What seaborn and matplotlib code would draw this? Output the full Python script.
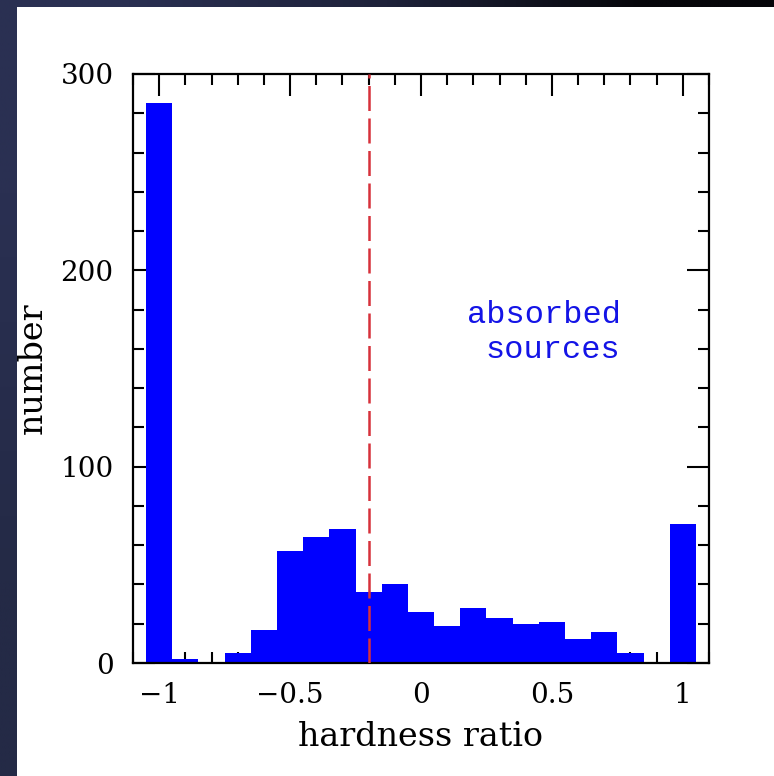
import numpy as np
import matplotlib
matplotlib.use("Agg")
import matplotlib.pyplot as plt
from matplotlib.patches import Rectangle
from matplotlib.ticker import MultipleLocator
import seaborn as sns

# Hardness-ratio histogram: bin centres (width 0.1) and source counts
bin_centers = [-1.0, -0.9, -0.8, -0.7, -0.6, -0.5, -0.4, -0.3, -0.2, -0.1,
               0.0, 0.1, 0.2, 0.3, 0.4, 0.5, 0.6, 0.7, 0.8, 0.9, 1.0]
counts = [285, 2, 0, 5, 17, 57, 64, 68, 36, 40,
          26, 19, 28, 23, 20, 21, 12, 16, 5, 0, 71]
divider_hr = -0.2
x_ticks = [-1, -0.5, 0, 0.5, 1]
x_tick_labels = ["\u22121", "\u22120.5", "0", "0.5", "1"]
y_ticks = [0, 100, 200, 300]
annotation_lines = ["absorbed", "sources"]
annotation_x = [0.471, 0.504]
annotation_y = [173.2, 155.4]

sns.set_theme(style="white")
plt.rcParams["font.family"] = ["DejaVu Serif", "DejaVu Sans"]
plt.rcParams["text.color"] = "black"
plt.rcParams["axes.labelcolor"] = "black"

W, H = 774, 776
fig = plt.figure(figsize=(W / 100, H / 100), dpi=100)

# dark slide-style backdrop with a white panel
bg = fig.add_axes([0, 0, 1, 1], zorder=-10)
corners = np.array([[[42, 48, 82], [30, 34, 58], [6, 6, 10]],
                    [[36, 42, 70], [20, 22, 36], [6, 6, 10]]], dtype=float) / 255
bg.imshow(corners, extent=[0, 1, 0, 1], aspect="auto", interpolation="bilinear")
bg.add_patch(Rectangle((17 / W, 0), 1, 1 - 7 / H, color="white", lw=0))
bg.set_xlim(0, 1)
bg.set_ylim(0, 1)
bg.axis("off")

ax = fig.add_axes([133 / W, 1 - 663 / H, (709 - 133) / W, (663 - 74) / H])
ax.set_facecolor("white")

sns.histplot(x=bin_centers, weights=counts, binwidth=0.1, binrange=(-1.05, 1.05),
             color="#0000ff", alpha=1.0, linewidth=0, ax=ax, zorder=2)

ax.axvline(divider_hr, color="#d6313b", lw=1.8, dashes=(10, 3), zorder=3)

for line, tx, ty in zip(annotation_lines, annotation_x, annotation_y):
    ax.text(tx, ty, line, color="#1414e6",
            family=["Liberation Mono", "DejaVu Sans Mono"], fontsize=23,
            ha="center", va="baseline")

ax.set_xlim(-1.1, 1.1)
ax.set_ylim(0, 300)
ax.set_xticks(x_ticks)
ax.set_xticklabels(x_tick_labels)
ax.set_yticks(y_ticks)
ax.xaxis.set_minor_locator(MultipleLocator(0.1))
ax.yaxis.set_minor_locator(MultipleLocator(20))
ax.tick_params(which="both", direction="in", top=True, right=True,
               bottom=True, left=True, colors="black", width=1.5,
               labelsize=20, pad=14)
ax.tick_params(which="major", length=16)
ax.tick_params(which="minor", length=8)
for s in ax.spines.values():
    s.set_visible(True)
    s.set_color("black")
    s.set_linewidth(1.6)

ax.set_xlabel("hardness ratio", fontsize=24, labelpad=8, color="black")
ax.set_ylabel("number", fontsize=24, labelpad=8, color="black")

fig.savefig("out.png", dpi=100)
